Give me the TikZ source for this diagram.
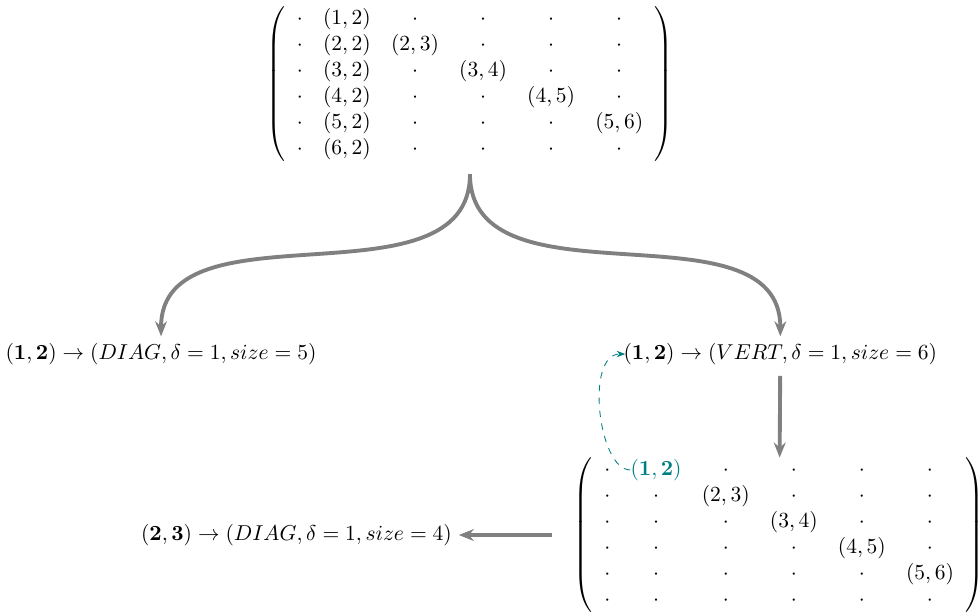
\documentclass[tikz,border=0pt]{standalone}
\usepackage{amsmath,amssymb,bm}
\usepackage{tikz}
\usetikzlibrary{arrows.meta,positioning,matrix}
\tikzset{
  spmat/.style={matrix of math nodes,left delimiter=(,right delimiter=),
                column sep=9.4pt,row sep=2.1pt,inner xsep=4pt,inner ysep=0.5pt,
                nodes={inner sep=0pt,text height=7.5pt,text depth=2.5pt}},
  rlabel/.style={inner sep=3pt},
  branch/.style={-{Stealth[length=7pt,width=5.5pt]},draw=gray,line width=1.8pt},
  backref/.style={-{Stealth[length=4pt,width=3pt]},draw=teal,dashed},
}

\begin{document}
\begin{tikzpicture}
\useasboundingbox (0,0) rectangle (16,-10.024);
% --- full pattern ---
\matrix[spmat] (tmat) at (7.673,-1.371) {
  \cdot & (1,2) & \cdot & \cdot & \cdot & \cdot \\
  \cdot & (2,2) & (2,3) & \cdot & \cdot & \cdot \\
  \cdot & (3,2) & \cdot & (3,4) & \cdot & \cdot \\
  \cdot & (4,2) & \cdot & \cdot & (4,5) & \cdot \\
  \cdot & (5,2) & \cdot & \cdot & \cdot & (5,6) \\
  \cdot & (6,2) & \cdot & \cdot & \cdot & \cdot \\
};
\coordinate[below=2.1mm of tmat] (split);
% --- candidate runs ---
\node[rlabel] (diag5) at (2.629,-5.78)
 {$(\mathbf{1},\mathbf{2}) \to (DIAG,\delta=1,size=5)$};
\node[rlabel] (vert) at (12.74,-5.78)
 {$(\mathbf{1},\mathbf{2}) \to (VERT,\delta=1,size=6)$};
% --- remaining pattern ---
\matrix[spmat] (bmat) at (12.72,-8.735) {
  \cdot & |[text=teal]| (\mathbf{1},\mathbf{2}) & \cdot & \cdot & \cdot & \cdot \\
  \cdot & \cdot & (2,3) & \cdot & \cdot & \cdot \\
  \cdot & \cdot & \cdot & (3,4) & \cdot & \cdot \\
  \cdot & \cdot & \cdot & \cdot & (4,5) & \cdot \\
  \cdot & \cdot & \cdot & \cdot & \cdot & (5,6) \\
  \cdot & \cdot & \cdot & \cdot & \cdot & \cdot \\
};
\node[rlabel] (diag4) at (4.84,-8.735)
 {$(\mathbf{2},\mathbf{3}) \to (DIAG,\delta=1,size=4)$};
% arrows
\draw[branch] (split) to[out=-90,in=90] (diag5.north);
\draw[branch] (split) to[out=-90,in=90] (vert.north);
\draw[branch,shorten <=2pt] (vert) -- (bmat);
\draw[branch,shorten <=20pt] (bmat.west) -- (diag4.east);
\draw[backref,shorten >=-4pt] (bmat-1-2.west) to[out=180,in=180,looseness=0.7] (vert.west);
\end{tikzpicture}
\end{document}
